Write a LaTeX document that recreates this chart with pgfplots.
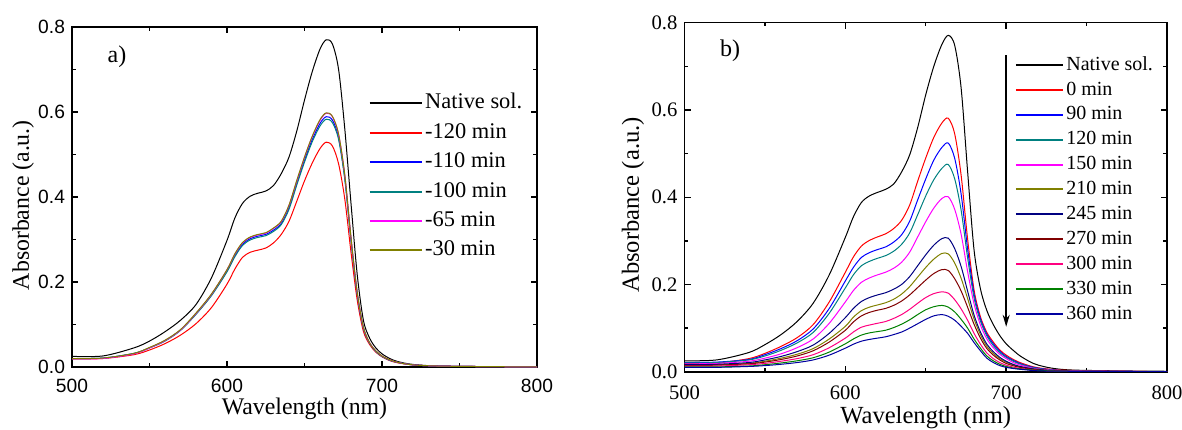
\documentclass[border=0pt]{standalone}
\usepackage{fontspec}
\setmainfont{Liberation Serif}
\setsansfont{Liberation Sans}
\usepackage{pgfplots}
\usepackage{pgfplotstable}
\pgfplotsset{compat=1.18}
\usetikzlibrary{arrows.meta}

\definecolor{oRed}{HTML}{FF0000}
\definecolor{oBlue}{HTML}{0000FF}
\definecolor{oTeal}{HTML}{008080}
\definecolor{oMag}{HTML}{FF00FF}
\definecolor{oOlive}{HTML}{808000}
\definecolor{oNavy}{HTML}{000080}
\definecolor{oWine}{HTML}{800000}
\definecolor{oPink}{HTML}{FF0080}
\definecolor{oGreen}{HTML}{008000}
\definecolor{oBlueB}{HTML}{0000A0}

\pgfplotstableread{
wl nat m120 m110 m100 m65 m30
500 .025 .019 .020 .020 .019 .020
520 .026 .020 .021 .021 .020 .021
540 .045 .029 .032 .032 .031 .032
550 .061 .040 .045 .045 .045 .046
560 .083 .055 .062 .061 .062 .063
570 .110 .075 .087 .086 .087 .088
580 .147 .102 .125 .124 .126 .127
590 .210 .140 .170 .168 .171 .172
600 .298 .195 .226 .224 .229 .229
605 .350 .230 .262 .259 .265 .266
610 .385 .258 .289 .286 .292 .293
615 .402 .270 .302 .299 .305 .306
620 .409 .275 .308 .305 .311 .312
625 .414 .280 .312 .309 .315 .316
630 .427 .292 .322 .319 .326 .327
635 .455 .312 .338 .335 .342 .343
640 .494 .343 .375 .371 .380 .381
645 .555 .390 .432 .428 .437 .439
650 .628 .438 .487 .482 .493 .494
655 .695 .480 .535 .530 .542 .543
660 .748 .514 .573 .567 .580 .582
664 .770 .529 .589 .583 .597 .598
668 .760 .520 .581 .575 .589 .590
672 .700 .478 .540 .535 .547 .548
676 .560 .395 .445 .441 .451 .452
680 .385 .270 .300 .297 .304 .305
684 .218 .158 .173 .171 .175 .176
688 .110 .084 .092 .091 .093 .094
692 .068 .053 .056 .056 .057 .057
696 .045 .035 .037 .037 .038 .038
700 .031 .024 .025 .025 .026 .026
705 .020 .015 .016 .016 .017 .017
710 .013 .010 .011 .011 .011 .011
720 .006 .005 .005 .005 .005 .005
740 .002 .002 .002 .002 .002 .002
800 .000 .000 .000 .000 .000 .000
}\tableA

\pgfplotstableread{
wl nat t0 t90 t120 t150 t210 t245 t270 t300 t330 t360
500 .025 .019 .021 .020 .018 .015 .016 .014 .013 .011 .010
520 .027 .020 .022 .021 .019 .016 .017 .015 .013 .011 .010
540 .044 .030 .028 .027 .024 .019 .021 .018 .016 .013 .012
550 .062 .042 .039 .036 .031 .024 .027 .022 .019 .016 .014
560 .085 .058 .053 .049 .041 .031 .035 .028 .024 .020 .017
570 .115 .078 .071 .066 .055 .040 .046 .036 .030 .025 .021
580 .157 .108 .098 .090 .075 .053 .061 .048 .039 .032 .027
590 .222 .160 .145 .134 .111 .075 .088 .068 .055 .045 .038
600 .308 .228 .208 .192 .160 .104 .124 .095 .077 .064 .054
605 .355 .263 .239 .222 .186 .125 .145 .114 .091 .075 .063
610 .388 .288 .262 .243 .205 .140 .161 .128 .102 .084 .070
615 .403 .301 .273 .253 .215 .148 .170 .136 .107 .089 .074
620 .411 .309 .280 .260 .222 .153 .176 .141 .111 .092 .077
625 .418 .316 .286 .266 .228 .158 .181 .145 .115 .095 .080
630 .430 .328 .297 .276 .237 .166 .189 .152 .122 .101 .085
635 .458 .347 .314 .292 .251 .178 .200 .162 .131 .109 .091
640 .497 .382 .345 .318 .274 .195 .218 .176 .143 .119 .100
645 .560 .437 .394 .360 .309 .217 .243 .193 .157 .131 .110
650 .635 .490 .442 .403 .344 .239 .268 .210 .170 .142 .120
655 .700 .537 .485 .440 .375 .258 .290 .225 .179 .149 .128
660 .750 .570 .514 .466 .397 .271 .305 .234 .183 .152 .131
664 .771 .581 .524 .475 .401 .270 .306 .232 .180 .148 .127
668 .748 .545 .489 .442 .372 .249 .282 .213 .165 .137 .118
672 .650 .450 .407 .370 .315 .214 .241 .185 .144 .120 .104
676 .460 .305 .282 .262 .230 .168 .185 .148 .118 .100 .088
680 .280 .188 .179 .170 .156 .121 .130 .109 .088 .075 .067
684 .190 .126 .121 .116 .107 .085 .091 .077 .063 .054 .048
688 .140 .090 .086 .082 .075 .058 .063 .053 .043 .036 .031
692 .108 .068 .064 .060 .055 .042 .046 .038 .030 .025 .021
696 .083 .050 .047 .044 .040 .030 .033 .027 .021 .017 .014
700 .064 .038 .035 .033 .030 .022 .024 .019 .015 .012 .010
705 .047 .027 .025 .023 .020 .015 .016 .013 .010 .008 .007
710 .033 .019 .017 .016 .014 .010 .011 .009 .007 .006 .005
720 .015 .009 .008 .007 .006 .005 .005 .004 .003 .003 .002
740 .004 .003 .002 .002 .002 .001 .001 .001 .001 .001 .001
800 .001 .000 .000 .000 .000 .000 .000 .000 .000 .000 .000
}\tableB

\pgfplotsset{
  spec/.style={
    scale only axis, anchor=south west,
    xmin=500, xmax=800, ymin=0, ymax=0.8,
    xtick={500,600,700,800}, ytick={0,0.2,0.4,0.6,0.8},
    minor x tick num=1, minor y tick num=1,
    tick align=inside,
    major tick length=3pt, minor tick length=1.8pt,
    axis line style={line width=0.8pt},
    every tick/.style={black, line width=0.7pt},
    /pgf/number format/assume math mode=true,
    yticklabel style={/pgf/number format/fixed, /pgf/number format/fixed zerofill, /pgf/number format/precision=1},
    legend cell align=left,
  },
  cv/.style={line width=0.5pt, smooth, no markers},
}

\begin{document}
\begin{tikzpicture}
\path[use as bounding box] (0pt,0pt) rectangle (591pt,214.5pt);

% ---------------- panel a ----------------
\begin{axis}[spec,
  at={(36pt,31pt)}, width=232.5pt, height=170pt,
  ticklabel style={font=\fontsize{9.6}{11}\selectfont\sffamily},
  xticklabel style={yshift=-2.3pt},
  label style={font=\fontsize{11.9}{13}\selectfont},
  xlabel={Wavelength (nm)}, ylabel={Absorbance (a.u.)},
  xlabel style={at={(axis description cs:0.5,-0.1235)}, anchor=center},
  ylabel style={at={(axis description cs:-0.105,0.476)}, anchor=center},
  legend image code/.code={\draw[#1, line width=1pt] (0pt,0pt) -- (26pt,0pt);},
  legend style={at={(axis description cs:0.637,0.815)}, anchor=north west,
    draw=none, fill=none, font=\fontsize{11.2}{12}\selectfont,
    inner sep=0pt, row sep=1.6pt,
    nodes={inner sep=1.3pt, text height=8pt, text depth=2.5pt}},
]
\addplot[cv, black] table[x=wl, y=nat] {\tableA};
\addlegendentry{Native sol.}
\addplot[cv, oRed] table[x=wl, y=m120] {\tableA};
\addlegendentry{-120 min}
\addplot[cv, oBlue] table[x=wl, y=m110] {\tableA};
\addlegendentry{-110 min}
\addplot[cv, oTeal] table[x=wl, y=m100] {\tableA};
\addlegendentry{-100 min}
\addplot[cv, oMag] table[x=wl, y=m65] {\tableA};
\addlegendentry{-65 min}
\addplot[cv, oOlive] table[x=wl, y=m30] {\tableA};
\addlegendentry{-30 min}
\node[font=\fontsize{12}{13}\selectfont] at (axis cs:529,0.731) {a)};
\end{axis}

% ---------------- panel b ----------------
\begin{axis}[spec,
  at={(342.25pt,28.65pt)}, width=241.25pt, height=174.5pt,
  ticklabel style={font=\fontsize{10.3}{11}\selectfont},
  xticklabel style={yshift=-3.7pt},
  label style={font=\fontsize{12.3}{13}\selectfont},
  xlabel={Wavelength (nm)}, ylabel={Absorbance (a.u.)},
  xlabel style={at={(axis description cs:0.5,-0.133)}, anchor=center},
  ylabel style={at={(axis description cs:-0.107,0.478)}, anchor=center},
  legend style={at={(axis description cs:0.684,0.915)}, anchor=north west,
    draw=none, fill=none, font=\fontsize{10}{11}\selectfont,
    inner sep=0pt, row sep=0.25pt,
    nodes={inner sep=1.2pt, text height=7.5pt, text depth=2.3pt}},
  legend image code/.code={\draw[#1, line width=1pt] (0pt,0pt) -- (23.5pt,0pt);},
]
\addplot[cv, black] table[x=wl, y=nat] {\tableB};
\addlegendentry{Native sol.}
\addplot[cv, oRed] table[x=wl, y=t0] {\tableB};
\addlegendentry{0 min}
\addplot[cv, oBlue] table[x=wl, y=t90] {\tableB};
\addlegendentry{90 min}
\addplot[cv, oTeal] table[x=wl, y=t120] {\tableB};
\addlegendentry{120 min}
\addplot[cv, oMag] table[x=wl, y=t150] {\tableB};
\addlegendentry{150 min}
\addplot[cv, oOlive] table[x=wl, y=t210] {\tableB};
\addlegendentry{210 min}
\addplot[cv, oNavy] table[x=wl, y=t245] {\tableB};
\addlegendentry{245 min}
\addplot[cv, oWine] table[x=wl, y=t270] {\tableB};
\addlegendentry{270 min}
\addplot[cv, oPink] table[x=wl, y=t300] {\tableB};
\addlegendentry{300 min}
\addplot[cv, oGreen] table[x=wl, y=t330] {\tableB};
\addlegendentry{330 min}
\addplot[cv, oBlueB] table[x=wl, y=t360] {\tableB};
\addlegendentry{360 min}
\draw[-{Stealth[length=6pt,width=3.5pt]}, line width=0.7pt] (axis cs:700,0.725) -- (axis cs:700,0.103);
\node[font=\fontsize{12}{13}\selectfont] at (axis cs:528.3,0.736) {b)};
\end{axis}
\end{tikzpicture}
\end{document}
